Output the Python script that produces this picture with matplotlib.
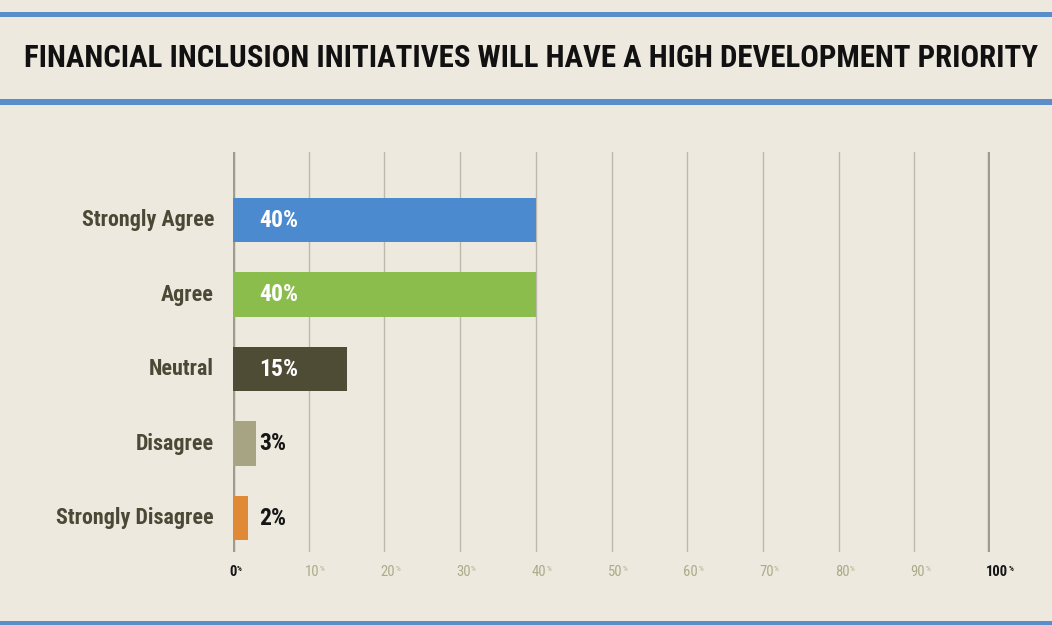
import matplotlib
matplotlib.use("Agg")
import matplotlib.pyplot as plt
from matplotlib.patches import Rectangle

categories = ["Strongly Agree", "Agree", "Neutral", "Disagree", "Strongly Disagree"]
values = [40, 40, 15, 3, 2]
bar_colors = ["#4C8ACF", "#8BBD4D", "#4E4C34", "#A7A483", "#E08A35"]
value_text_colors = ["white", "white", "white", "#161616", "#161616"]
tick_values = [0, 10, 20, 30, 40, 50, 60, 70, 80, 90, 100]
title = "FINANCIAL INCLUSION INITIATIVES WILL HAVE A HIGH DEVELOPMENT PRIORITY"

BG = "#EDE9DF"
RULE = "#5A8ECB"
LABEL = "#4A4935"
FONT = ["Roboto Condensed", "Open Sans Condensed", "DejaVu Sans"]

plt.rcParams["font.family"] = FONT
plt.rcParams["font.stretch"] = "condensed"

W, H = 1052, 625
fig = plt.figure(figsize=(W / 100, H / 100), dpi=100, facecolor=BG)

# horizontal blue rules framing the header and the page
for y0, y1 in [(12, 17), (99, 105), (621, 626)]:
    fig.add_artist(Rectangle((0, 1 - y1 / H), 1, (y1 - y0) / H,
                             transform=fig.transFigure, color=RULE, lw=0))

fig.text(531 / W, 1 - 58 / H, title, ha="center", va="center",
         fontsize=22.2, fontweight="bold", color="#111111")

# plot area: 0..100 % spans x 233..990 px, gridlines from y 152 to 552 px
left, right = 233 / W, 990 / W
top, bottom = 1 - 152 / H, 1 - 552 / H
ax = fig.add_axes([left, bottom, right - left, top - bottom])
ax.set_facecolor("none")
ax.set_xlim(0, 100)
ax.set_ylim(4.456, -0.913)
for s in ax.spines.values():
    s.set_visible(False)
ax.set_xticks([])
ax.set_yticks([])

for t in tick_values:
    edge = t in (0, 100)
    ax.axvline(t, color="#9E9B8F" if edge else "#BDB9AC",
               lw=3.2 if edge else 1.0, zorder=0)

ypos = list(range(len(categories)))
ax.barh(ypos, values, height=0.6, color=bar_colors, zorder=2)

for y, cat, v, tc in zip(ypos, categories, values, value_text_colors):
    ax.text(-2.5, y, cat, ha="right", va="center", fontsize=15.8,
            fontweight="bold", color=LABEL)
    ax.text(3.5, y, f"{v}%", ha="left", va="center", fontsize=17,
            fontweight="bold", color=tc, zorder=3)

label_y = 4.456 + 20 / 74.5
for t in tick_values:
    edge = t in (0, 100)
    col = "#161616" if edge else "#ABAB88"
    wt = "bold" if edge else "normal"
    num = ax.text(t - 0.5, label_y, f"{t}", ha="left", va="center",
                  fontsize=10.5, fontweight=wt, color=col)
    ax.annotate("%", xy=(1, 0.72), xycoords=num, ha="left", va="center",
                fontsize=5.5, fontweight=wt, color=col)

fig.savefig("out.png", dpi=100, facecolor=BG)
